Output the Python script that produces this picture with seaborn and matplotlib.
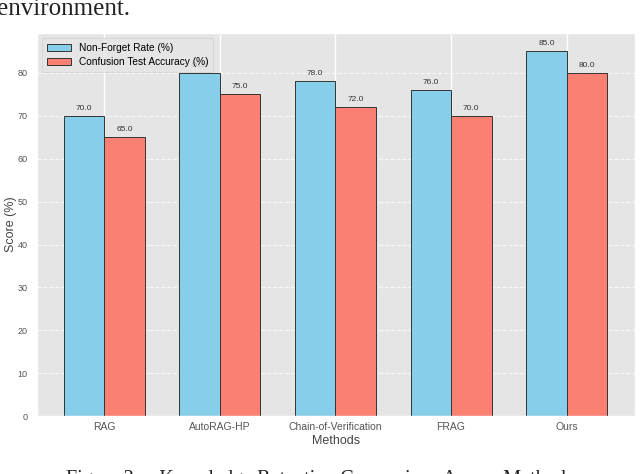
import pandas as pd
import matplotlib.pyplot as plt
import seaborn as sns

# Values
methods = ["RAG", "AutoRAG-HP", "Chain-of-Verification", "FRAG", "Ours"]
non_forget = [70.0, 80.0, 78.0, 76.0, 85.0]
confusion_acc = [65.0, 75.0, 72.0, 70.0, 80.0]
series_names = ["Non-Forget Rate (%)", "Confusion Test Accuracy (%)"]

df = pd.DataFrame({
    "Method": methods * 2,
    "Metric": [series_names[0]] * len(methods) + [series_names[1]] * len(methods),
    "Score": non_forget + confusion_acc,
})

plt.style.use("ggplot")
plt.rcParams["font.family"] = ["Liberation Sans", "DejaVu Sans"]

fig = plt.figure(figsize=(6.4, 4.74), dpi=100)
ax = fig.add_axes([0.058, 0.122, 0.934, 0.808])

sns.barplot(data=df, x="Method", y="Score", hue="Metric",
            palette=["skyblue", "salmon"], width=0.7, gap=0,
            edgecolor="#333333", linewidth=0.7, saturation=1, ax=ax)

for container in ax.containers:
    ax.bar_label(container, fmt="%.1f", padding=3, fontsize=6, color="#333333")

ax.set_xlim(-0.58, 4.59)
ax.set_ylim(0, 89.25)
ax.set_xlabel("Methods", fontsize=9, color="#444444", labelpad=2)
ax.set_ylabel("Score (%)", fontsize=9, color="#444444", labelpad=0.5)
ax.tick_params(axis="x", labelsize=7.5, colors="#555555", length=0, pad=4)
ax.tick_params(axis="y", labelsize=6.5, colors="#555555", length=0, pad=7)
ax.yaxis.grid(True, linestyle="--", alpha=0.7)
ax.xaxis.grid(True, color="white", linewidth=1)
ax.set_axisbelow(True)

leg = ax.legend(loc="upper left", fontsize=7.3, frameon=True, handlelength=2.3,
                borderpad=0.5, labelspacing=0.4)
leg.set_title(None)
leg.get_frame().set_facecolor("#E5E5E5")
leg.get_frame().set_edgecolor("#CCCCCC")

# surrounding page text
fig.text(-0.004, 0.968, "environment.", fontsize=18, family=["Liberation Serif", "DejaVu Serif"],
         va="baseline", ha="left", color="#222222")
fig.text(0.5, 0.008, "Figure 2:    Knowledge Retention Comparison Across Methods",
         fontsize=14.5, family=["Liberation Serif", "DejaVu Serif"],
         va="top", ha="center", color="#222222")

fig.savefig("out.png", dpi=100)
